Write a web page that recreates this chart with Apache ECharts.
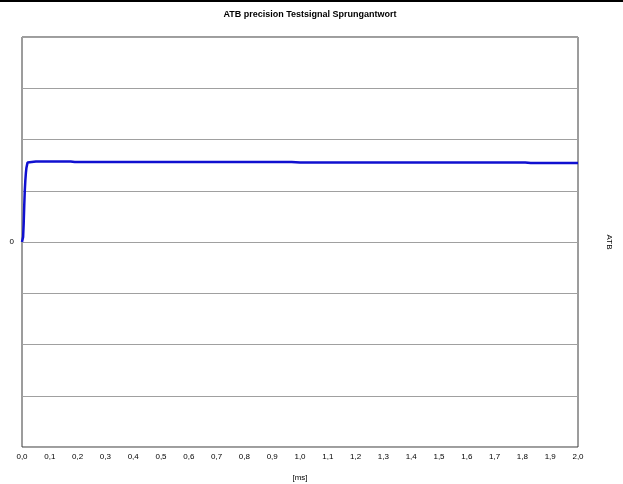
<!DOCTYPE html>
<html>
<head>
<meta charset="utf-8">
<script src="https://cdn.jsdelivr.net/npm/echarts@6/dist/echarts.min.js"></script>
<style>
html,body{margin:0;padding:0;background:#fff;}
#chart{width:623px;height:484px;}
#bar{position:absolute;left:0;top:0;width:623px;height:2px;background:#000;}
</style>
</head>
<body>
<div id="chart"></div>
<div id="bar"></div>
<script>
var titleText = 'ATB precision Testsignal Sprungantwort';
var xName = '[ms]';
var yName = 'ATB';
var timeMs = [0, 0.002, 0.004, 0.006, 0.008, 0.010, 0.012, 0.014, 0.016, 0.018, 0.020, 0.022, 0.05, 0.10, 0.135, 0.14, 0.145, 0.15, 0.155, 0.16, 0.165, 0.17, 0.175, 0.18, 0.19, 0.25, 0.5, 0.96, 0.965, 0.97, 0.975, 1.0, 1.3, 1.6, 1.80, 1.805, 1.81, 1.83, 1.86, 1.865, 1.87, 1.875, 1.9, 2.0];
var atb = [0, 0.02, 0.1, 0.35, 0.7, 1.0, 1.2, 1.35, 1.45, 1.5, 1.55, 1.57, 1.57, 1.57, 1.57, 1.55, 1.57, 1.55, 1.57, 1.55, 1.57, 1.55, 1.57, 1.55, 1.56, 1.56, 1.56, 1.56, 1.54, 1.56, 1.55, 1.55, 1.55, 1.55, 1.55, 1.53, 1.55, 1.54, 1.54, 1.56, 1.54, 1.54, 1.54, 1.54];
var yTicks = [-4, -3, -2, -1, 0, 1, 2, 3, 4];

var chart = echarts.init(document.getElementById('chart'));
var data = timeMs.map(function (t, i) { return [t, atb[i]]; });
chart.setOption({
  animation: false,
  backgroundColor: '#fff',
  title: {
    text: titleText, left: 310, top: 10, padding: 0, textAlign: 'center',
    textStyle: { fontFamily: 'Liberation Sans', fontSize: 9, fontWeight: 'bold', color: '#000' }
  },
  grid: { left: 22, top: 37, right: 45, bottom: 37, outerBoundsMode: 'none', containLabel: false, show: true, borderColor: '#3a3a3a', borderWidth: 1, backgroundColor: '#fff' },
  xAxis: {
    type: 'value', min: 0, max: 2, interval: 0.1,
    name: xName, nameLocation: 'middle', nameGap: 27,
    nameTextStyle: { fontFamily: 'Liberation Sans', fontSize: 8, color: '#000' },
    axisLine: { show: false }, axisTick: { show: false }, splitLine: { show: false },
    axisLabel: {
      margin: 6, fontFamily: 'Liberation Sans', fontSize: 8, color: '#000',
      formatter: function (v) { return v.toFixed(1).replace('.', ','); }
    }
  },
  yAxis: {
    type: 'value', min: yTicks[0], max: yTicks[yTicks.length - 1], interval: 1,
    axisLine: { show: false }, axisTick: { show: false },
    splitLine: { show: true, lineStyle: { color: '#a0a0a0', width: 1 } },
    axisLabel: {
      margin: 8, fontFamily: 'Liberation Sans', fontSize: 8, color: '#000',
      formatter: function (v) { return v === 0 ? '0' : ''; }
    }
  },
  graphic: [{
    type: 'text', x: 609, y: 242, rotation: -Math.PI / 2,
    style: { text: yName, fontFamily: 'Liberation Sans', fontSize: 8, fill: '#000', align: 'center', verticalAlign: 'middle' }
  }],
  series: [{
    type: 'line', data: data, showSymbol: false, symbol: 'none',
    lineStyle: { color: '#1010d0', width: 2.5 }
  }]
});
</script>
</body>
</html>
